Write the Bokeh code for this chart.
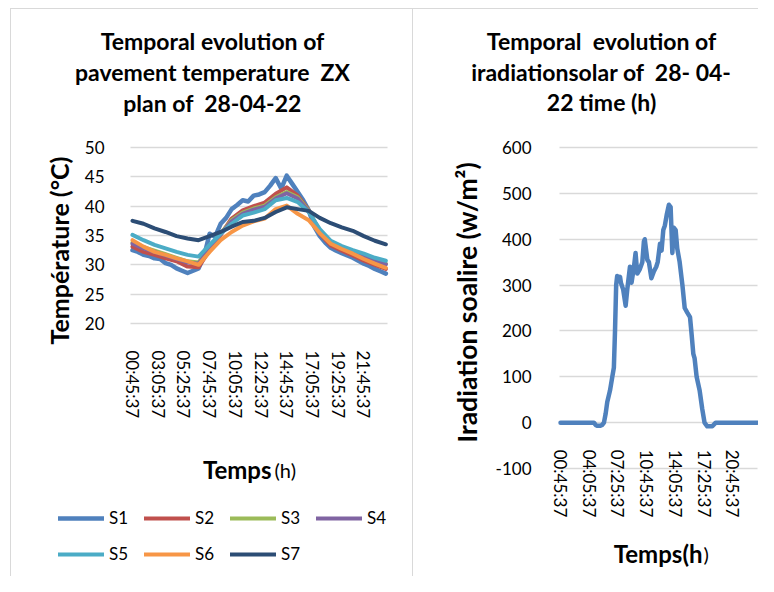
import math
from bokeh.plotting import figure
from bokeh.models import Range1d, FixedTicker, Label, Legend, LegendItem
from bokeh.layouts import row
from bokeh.embed import file_html
from bokeh.resources import INLINE

FONT = "Lato"

# ---------------- data: pavement temperature (°C) ----------------
temp_tick_labels = ["00:45:37", "03:05:37", "05:25:37", "07:45:37", "10:05:37",
                    "12:25:37", "14:45:37", "17:05:37", "19:25:37", "21:45:37"]

hour_times = ["00:45:37", "01:45:37", "02:45:37", "03:45:37", "04:45:37", "05:45:37",
              "06:45:37", "07:45:37", "08:45:37", "09:45:37", "10:45:37", "11:45:37",
              "12:45:37", "13:45:37", "14:45:37", "15:45:37", "16:45:37", "17:45:37",
              "18:45:37", "19:45:37", "20:45:37", "21:45:37", "22:45:37", "23:45:37"]

s1_times = ["00:45:37", "01:15:37", "01:45:37", "02:15:37", "02:45:37", "03:15:37",
            "03:45:37", "04:15:37", "04:45:37", "05:15:37", "05:45:37", "06:15:37",
            "06:45:37", "07:15:37", "07:45:37", "08:15:37", "08:45:37", "09:15:37",
            "09:45:37", "10:15:37", "10:45:37", "11:15:37", "11:45:37", "12:15:37",
            "12:45:37", "13:15:37", "13:45:37", "14:15:37", "14:45:37", "15:15:37",
            "15:45:37", "16:15:37", "16:45:37", "17:15:37", "17:45:37", "18:15:37",
            "18:45:37", "19:15:37", "19:45:37", "20:15:37", "20:45:37", "21:15:37",
            "21:45:37", "22:15:37", "22:45:37", "23:15:37", "23:45:37"]

S1 = [32.5, 32.2, 31.7, 31.5, 31.1, 31.0, 30.3, 30.0, 29.4, 29.0, 28.6, 29.0,
      29.4, 31.5, 35.3, 34.8, 37.0, 38.0, 39.5, 40.2, 41.0, 40.8, 41.8, 42.0,
      42.4, 43.5, 44.8, 43.0, 45.2, 43.8, 42.4, 41.0, 39.3, 36.5, 34.9, 33.8,
      32.9, 32.4, 32.0, 31.6, 31.2, 30.7, 30.2, 29.8, 29.3, 28.9, 28.5]
S2 = [33.1, 32.2, 31.7, 31.1, 30.6, 29.7, 29.6, 32.5, 35.1, 37.9, 39.3, 40.0,
      40.6, 42.1, 43.2, 41.8, 39.3, 35.3, 33.3, 32.4, 31.6, 30.7, 30.0, 29.3]
S3 = [33.8, 33.0, 32.4, 31.8, 31.2, 30.6, 30.4, 33.0, 35.3, 37.6, 38.9, 39.6,
      40.1, 41.5, 42.4, 41.5, 39.2, 35.8, 33.9, 33.0, 32.2, 31.4, 30.7, 30.2]
S4 = [33.6, 32.8, 32.2, 31.6, 31.0, 30.4, 30.2, 32.8, 35.2, 37.4, 38.7, 39.4,
      39.9, 41.3, 42.2, 41.3, 39.1, 35.7, 33.8, 32.9, 32.1, 31.3, 30.6, 30.1]
S5 = [35.1, 34.2, 33.4, 32.8, 32.2, 31.7, 31.4, 33.4, 35.3, 37.0, 38.4, 38.9,
      39.5, 41.0, 41.4, 40.7, 39.0, 36.1, 34.1, 33.2, 32.5, 31.9, 31.2, 30.7]
S6 = [34.2, 33.1, 32.2, 31.7, 31.1, 30.6, 30.0, 32.2, 34.2, 35.6, 36.7, 37.4,
      37.9, 39.5, 40.1, 38.7, 37.6, 35.4, 33.6, 32.7, 31.9, 31.0, 30.2, 29.5]
S7 = [37.5, 37.0, 36.2, 35.6, 34.9, 34.5, 34.2, 34.9, 35.6, 36.5, 37.3, 37.5,
      38.0, 39.0, 39.8, 39.5, 39.2, 38.0, 37.1, 36.4, 35.8, 34.9, 34.1, 33.5]
series_names = ["S1", "S2", "S3", "S4", "S5", "S6", "S7"]
series_colors = ["#4F81BD", "#C0504D", "#9BBB59", "#8064A2", "#4BACC6", "#F79646", "#2C4D75"]
temp_ticks = [20, 25, 30, 35, 40, 45, 50]

# ---------------- data: solar irradiation (W/m²) ----------------
rad_tick_labels = ["00:45:37", "04:05:37", "07:25:37", "10:45:37", "14:05:37",
                   "17:25:37", "20:45:37"]
rad_times = ["00:45:37", "04:38", "04:50", "05:01", "05:20", "05:36", "05:48", "06:00",
             "06:11", "06:30", "06:46", "06:57", "07:05", "07:13", "07:20", "07:32",
             "07:40", "07:46", "08:02", "08:19", "08:30", "08:49", "09:00", "09:17",
             "09:28", "09:40", "09:58", "10:15", "10:26", "10:32", "10:50", "11:01",
             "11:18", "11:36", "11:52", "12:02", "12:18", "12:29", "12:41", "12:52",
             "13:06", "13:20", "13:32", "13:44", "13:55", "14:07", "14:18", "14:35",
             "14:54", "15:10", "15:28", "15:47", "15:56", "16:10", "16:19", "16:33",
             "16:54", "17:12", "17:28", "17:47", "18:22", "18:46", "23:36"]
rad_values = [0, 0, -5, -7, -7, -5, 0, 20, 45, 70,
              100, 120, 200, 300, 320, 310, 318, 305, 290, 255,
              290, 340, 305, 340, 370, 325, 335, 350, 395, 400,
              355, 350, 315, 330, 340, 350, 390, 375, 420, 430,
              455, 475, 470, 370, 425, 420, 380, 350, 300, 250,
              240, 230, 200, 150, 140, 100, 70, 30, 0, -8,
              -8, 0, 0]
rad_ticks = [-100, 0, 100, 200, 300, 400, 500, 600]


def secs(s):
    parts = [int(v) for v in s.split(":")]
    while len(parts) < 3:
        parts.append(0)
    return parts[0] * 3600 + parts[1] * 60 + parts[2]


H = 576
LINE = "linear-gradient(#d9d9d9, #d9d9d9)"
BORDER_LEFT = {"background": f"{LINE} 10px 8px / 1px 100% no-repeat, "
                             f"{LINE} 10px 8px / 100% 1px no-repeat, "
                             f"{LINE} 412px 8px / 1px 100% no-repeat"}
BORDER_RIGHT = {"background": f"{LINE} 0px 8px / 100% 1px no-repeat"}


def make_fig(W, box, xlim, ylim, styles):
    """Figure whose frame is the whole canvas; plot area 'box' (L, R, T, B) in px
    maps onto xlim / ylim."""
    L, R, T, B = box
    kx = (xlim[1] - xlim[0]) / (R - L)
    ky = (ylim[1] - ylim[0]) / (B - T)
    p = figure(width=W, height=H, output_backend="svg", toolbar_location=None,
               x_range=Range1d(xlim[0] - L * kx, xlim[1] + (W - R) * kx),
               y_range=Range1d(ylim[0] - (H - B) * ky, ylim[1] + T * ky),
               min_border=0, styles=styles)
    p.outline_line_color = None
    p.border_fill_color = None
    p.background_fill_color = None
    p.xgrid.visible = False
    for ax in (p.xaxis[0], p.yaxis[0]):
        ax.axis_line_color = None
        ax.major_tick_line_color = None
        ax.minor_tick_line_color = None
        ax.major_label_text_font = FONT
        ax.major_label_text_font_size = "17px"
        ax.major_label_text_color = "black"
    p.yaxis.fixed_location = xlim[0]
    p.yaxis.bounds = ylim
    p.xaxis.bounds = xlim
    p.ygrid.bounds = ylim
    p.ygrid.cross_bounds = xlim
    p.ygrid.grid_line_color = "#d9d9d9"
    p.ygrid.grid_line_width = 1.5
    px = lambda v: xlim[0] + (v - L) * kx
    py = lambda v: ylim[1] - (v - T) * ky
    return p, px, py


def label(p, x, y, text, size, bold=True, align="center", baseline="alphabetic", angle=0.0):
    p.add_layout(Label(x=x, y=y, text=text, text_align=align, text_baseline=baseline,
                       angle=angle, text_font=FONT, text_font_size=size,
                       text_font_style="bold" if bold else "normal",
                       text_color="black"))


NB = "\u00a0"

# ---------------- left chart ----------------
p1, px1, py1 = make_fig(413, (130, 387, 147, 323), (2082, 86076), (20, 50), BORDER_LEFT)
yt1 = FixedTicker(ticks=temp_ticks)
p1.yaxis.ticker = yt1
p1.ygrid.ticker = yt1
p1.yaxis.major_label_overrides = {t: str(t) for t in temp_ticks}
p1.yaxis.major_label_standoff = 20
p1.xaxis.fixed_location = 20
p1.xaxis.ticker = FixedTicker(ticks=[secs(t) for t in temp_tick_labels])
p1.xaxis.major_label_overrides = {secs(t): t for t in temp_tick_labels}
p1.xaxis.major_label_orientation = "vertical"
p1.xaxis.major_label_standoff = 21

all_series = [S1, S2, S3, S4, S5, S6, S7]
renderers = []
for name, vals, col in zip(series_names, all_series, series_colors):
    times = s1_times if name == "S1" else hour_times
    r = p1.line([secs(t) for t in times], vals, line_color=col,
                line_width=4.5 if name == "S1" else 4,
                line_join="round", line_cap="round")
    renderers.append(r)

leg_common = dict(orientation="horizontal", border_line_color=None,
                  background_fill_alpha=0, padding=0, margin=0, spacing=15,
                  label_standoff=5, glyph_width=46, glyph_height=20, label_width=20,
                  label_height=20, label_text_font=FONT, label_text_font_size="17px",
                  label_text_color="black")
p1.add_layout(Legend(items=[LegendItem(label=n, renderers=[r]) for n, r in
                            zip(series_names[:4], renderers[:4])],
                     location=(58, H - 528), **leg_common))
p1.add_layout(Legend(items=[LegendItem(label=n, renderers=[r]) for n, r in
                            zip(series_names[4:], renderers[4:])],
                     location=(58, H - 564), **leg_common))

label(p1, px1(212), py1(40), "Temporal evolution of", "23px")
label(p1, px1(212), py1(71), "pavement temperature " + NB + "ZX", "23px")
label(p1, px1(212), py1(102), "plan of " + NB + "28-04-22", "23px")
label(p1, px1(271), py1(469), "Temps", "24px", align="right")
label(p1, px1(274), py1(469), "(h)", "20px", bold=False, align="left")
label(p1, px1(58), py1(250), "Température (°C)", "25px", baseline="middle",
      angle=math.pi / 2)

# ---------------- right chart ----------------
p2, px2, py2 = make_fig(345, (146, 344, 147, 468), (2316, 85000), (-100, 600), BORDER_RIGHT)
yt2 = FixedTicker(ticks=rad_ticks)
p2.yaxis.ticker = yt2
p2.ygrid.ticker = yt2
p2.yaxis.major_label_overrides = {t: str(t) for t in rad_ticks}
p2.yaxis.major_label_standoff = 22
p2.xaxis.fixed_location = 0
p2.xaxis.ticker = FixedTicker(ticks=[secs(t) for t in rad_tick_labels])
p2.xaxis.major_label_overrides = {secs(t): t for t in rad_tick_labels}
p2.xaxis.major_label_orientation = "vertical"
p2.xaxis.major_label_standoff = 21

p2.line([secs(t) for t in rad_times], rad_values, line_color="#4F81BD",
        line_width=4.5, line_join="round", line_cap="round")

label(p2, px2(188), py2(40), "Temporal " + NB + "evolution of", "23px")
label(p2, px2(188), py2(71), "iradiationsolar of " + NB + "28- 04-", "23px")
label(p2, px2(188), py2(101), "22 time (h)", "23px")
label(p2, px2(289), py2(553), "Temps(h", "24px", align="right")
label(p2, px2(290), py2(553), ")", "20px", bold=False, align="left")
label(p2, px2(53), py2(302), "Iradiation soalire (w/m²)", "26.5px", baseline="middle",
      angle=math.pi / 2)

layout = row(p1, p2, spacing=0)
open("out.html", "w").write(file_html(layout, INLINE))
